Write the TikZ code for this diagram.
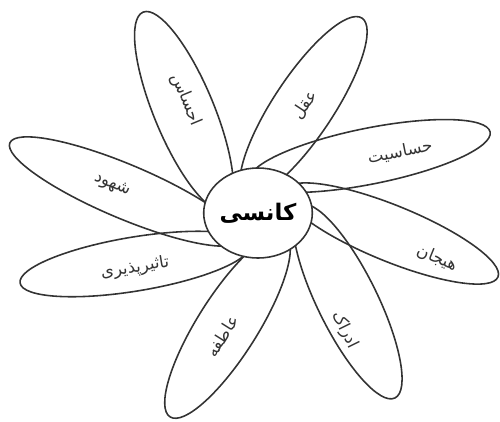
\documentclass[tikz,border=0pt]{standalone}
\usepackage{fontspec}
\usetikzlibrary{shapes.geometric}
\newfontfamily\fafont[Script=Arabic]{DejaVu Sans}
\TeXXeTstate=1
\newcommand{\fatext}[1]{{\fafont\beginR #1\endR}}

\begin{document}
\begin{tikzpicture}[
  petal/.style={draw=black!80, line width=0.9pt},
  word/.style={font=\fontsize{9.5}{11}\selectfont, text=black!80},
  core/.style={draw=black!80, line width=0.9pt, ellipse, fill=white, inner sep=0pt, minimum width=2.14cm, minimum height=1.8cm}
]
\useasboundingbox (0,0) rectangle (10,-8.42);
% petals
\draw[petal, rotate around={-67.5:(3.68,-2.22)}] (3.68,-2.22) ellipse [x radius=2.14, y radius=0.6];
\draw[petal, rotate around={56.5:(6.07,-2.13)}] (6.07,-2.13) ellipse [x radius=2.12, y radius=0.6];
\draw[petal, rotate around={11.3:(7.4,-3.12)}] (7.4,-3.12) ellipse [x radius=2.45, y radius=0.56];
\draw[petal, rotate around={-22.2:(7.83,-4.67)}] (7.83,-4.67) ellipse [x radius=2.3, y radius=0.56];
\draw[petal, rotate around={-63.8:(6.95,-6.03)}] (6.95,-6.03) ellipse [x radius=2.15, y radius=0.6];
\draw[petal, rotate around={57.7:(4.55,-6.52)}] (4.55,-6.52) ellipse [x radius=2.15, y radius=0.6];
\draw[petal, rotate around={9.4:(2.7,-5.28)}] (2.7,-5.28) ellipse [x radius=2.33, y radius=0.54];
\draw[petal, rotate around={-22.9:(2.5,-3.83)}] (2.5,-3.83) ellipse [x radius=2.5, y radius=0.54];
% words
\node[word, rotate=-67.5] (ehsas) at (3.72,-2.0) {\fatext{احساس}};
\node[word, rotate=56.5] (aghl) at (6.1,-2.1) {\fatext{عقل}};
\node[word, rotate=11.3] (hasasiyat) at (8.0,-3.04) {\fatext{حساسیت}};
\node[word, rotate=-22.2] (hayajan) at (8.74,-5.16) {\fatext{هیجان}};
\node[word, rotate=-63.8] (edrak) at (6.9,-6.6) {\fatext{ادراک}};
\node[word, rotate=57.7] (atefe) at (4.44,-6.72) {\fatext{عاطفه}};
\node[word, rotate=9.4] (tasir) at (2.7,-5.36) {\fatext{تاثیرپذیری}};
\node[word, rotate=-22.9] (shohud) at (2.24,-3.7) {\fatext{شهود}};
% center
\node[core, font=\fontsize{13}{15}\selectfont\bfseries] (kansi) at (5.16,-4.26) {\fatext{کانسی}};
\end{tikzpicture}
\end{document}
